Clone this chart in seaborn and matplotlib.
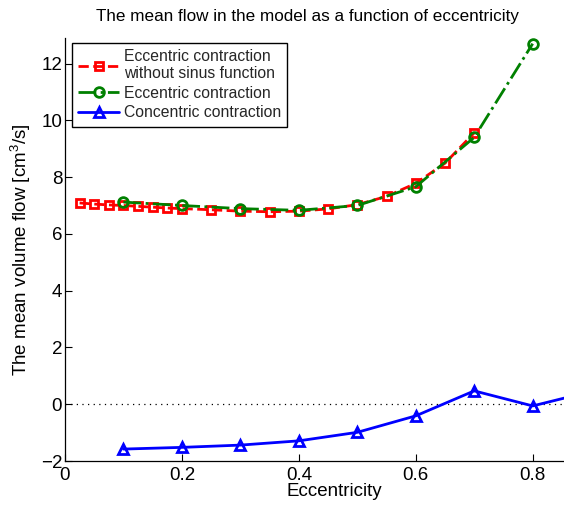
import matplotlib
matplotlib.use("Agg")
import matplotlib.pyplot as plt
import seaborn as sns
import pandas as pd

# ---- data ----
ecc_red = [0.025, 0.05, 0.075, 0.1, 0.125, 0.15, 0.175, 0.2, 0.25, 0.3, 0.35, 0.4,
           0.45, 0.5, 0.55, 0.6, 0.65, 0.7]
flow_red = [7.09, 7.05, 7.02, 7.00, 6.97, 6.94, 6.91, 6.89, 6.85, 6.80, 6.78, 6.80,
            6.88, 7.03, 7.32, 7.78, 8.49, 9.56]

ecc_green = [0.1, 0.2, 0.3, 0.4, 0.5, 0.6, 0.7, 0.8]
flow_green = [7.12, 7.00, 6.89, 6.83, 7.00, 7.66, 9.40, 12.70]

ecc_blue = [0.1, 0.2, 0.3, 0.4, 0.5, 0.6, 0.7, 0.8, 0.9]
flow_blue = [-1.58, -1.52, -1.44, -1.29, -0.99, -0.41, 0.47, -0.06, 0.45]

labels = ["Eccentric contraction\nwithout sinus function",
          "Eccentric contraction",
          "Concentric contraction"]
title = "The mean flow in the model as a function of eccentricity"
xlabel = "Eccentricity"
ylabel = "The mean volume flow [cm$^3$/s]"
xticks = [0, 0.2, 0.4, 0.6, 0.8]
xticklabels = ["0", "0.2", "0.4", "0.6", "0.8"]
yticks = [-2, 0, 2, 4, 6, 8, 10, 12]
yticklabels = ["\u22122", "0", "2", "4", "6", "8", "10", "12"]

sns.set_theme(style="white")
plt.rcParams['font.family'] = ['Liberation Sans', 'DejaVu Sans']
plt.rcParams['mathtext.fontset'] = 'custom'
plt.rcParams['mathtext.rm'] = 'Liberation Sans'
plt.rcParams['mathtext.it'] = 'Liberation Sans'

FS = 13.5
W, H = 564, 507
fig = plt.figure(figsize=(W / 100, H / 100), dpi=100)
ax_w, ax_h = 564 - 65, 461 - 38
ax = fig.add_axes([65 / W, 1 - 461 / H, ax_w / W, ax_h / H])

df_r = pd.DataFrame({"x": ecc_red, "y": flow_red})
df_g = pd.DataFrame({"x": ecc_green, "y": flow_green})
df_b = pd.DataFrame({"x": ecc_blue, "y": flow_blue})

ax.axhline(0, color="black", linestyle=(0, (1, 3.5)), linewidth=0.9, zorder=1)

sns.lineplot(data=df_r, x="x", y="y", ax=ax, color=(1, 0, 0), linestyle="--",
             linewidth=2, marker="s", markersize=6, markerfacecolor="none",
             markeredgecolor=(1, 0, 0), markeredgewidth=2, label=labels[0],
             zorder=3)
sns.lineplot(data=df_g, x="x", y="y", ax=ax, color=(0, 0.5, 0), linestyle="-.",
             linewidth=2, marker="o", markersize=7, markerfacecolor="none",
             markeredgecolor=(0, 0.5, 0), markeredgewidth=2, label=labels[1],
             zorder=4)
sns.lineplot(data=df_b, x="x", y="y", ax=ax, color=(0, 0, 1), linestyle="-",
             linewidth=2, marker="^", markersize=7, markerfacecolor="none",
             markeredgecolor=(0, 0, 1), markeredgewidth=2, label=labels[2],
             zorder=5)

ax.set_xlim(0, ax_w / 584.6)
ax.set_ylim(-2, 12.9)
ax.set_xticks(xticks)
ax.set_xticklabels(xticklabels)
ax.set_yticks(yticks)
ax.set_yticklabels(yticklabels)
ax.tick_params(direction="in", length=5, width=0.8, labelsize=FS, color="black",
               labelcolor="black", left=True, bottom=True)
ax.tick_params(axis="y", pad=2)
ax.tick_params(axis="x", pad=4)
for s in ["top", "right"]:
    ax.spines[s].set_visible(False)
for s in ["left", "bottom"]:
    ax.spines[s].set_color("black")
    ax.spines[s].set_linewidth(0.9)

ax.set_xlabel(xlabel, fontsize=FS, color="black")
ax.xaxis.set_label_coords((334 - 65) / ax_w, -(483.5 - 461) / ax_h)
ax.set_ylabel(ylabel, fontsize=FS, color="black")
ax.yaxis.set_label_coords(-(65 - 33) / ax_w, 0.5)

leg = ax.legend(loc="upper left", bbox_to_anchor=(7 / ax_w, 1 - 5 / ax_h),
                borderaxespad=0, fontsize=11.3, frameon=True, fancybox=False,
                handlelength=2.6, handletextpad=0.3, labelspacing=0.3,
                borderpad=0.4)
leg.get_frame().set_edgecolor("black")
leg.get_frame().set_linewidth(1.0)
leg.get_frame().set_alpha(1)
for t in leg.get_texts():
    t.set_linespacing(1.15)

fig.text(308 / W, 1 - 21 / H, title, ha="center", va="baseline", fontsize=12.3,
         color="black")

fig.savefig("out.png", dpi=100)
